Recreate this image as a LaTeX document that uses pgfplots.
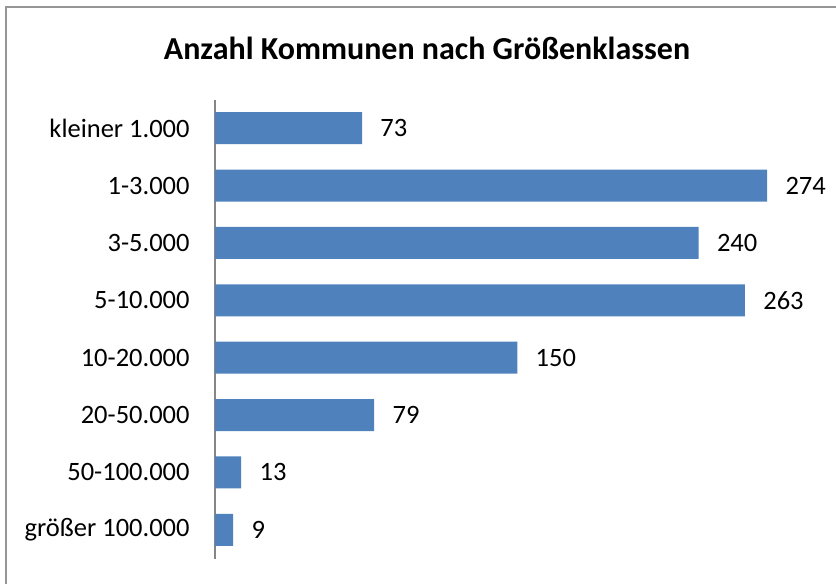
\documentclass[border=0pt]{standalone}
\usepackage{pgfplots}
\pgfplotsset{compat=1.18}
\usepackage{fontspec}
\setmainfont{Carlito}
\definecolor{barblue}{HTML}{4F81BD}
\definecolor{axisgray}{HTML}{868686}
\definecolor{framegray}{HTML}{969696}
\begin{document}
\begin{tikzpicture}
\useasboundingbox (0,0) rectangle (418pt,292pt);
\clip (0,0) rectangle (418pt,292pt);
\draw[framegray, line width=0.8pt] (3pt,-10pt) -- (3pt,288.5pt) -- (440pt,288.5pt);
\node[font=\fontsize{16}{19}\selectfont\bfseries] at (213.5pt,268pt) {Anzahl Kommunen nach Größenklassen};
\begin{axis}[
  at={(107.5pt,12.75pt)}, anchor=south west,
  scale only axis, width=302.25pt, height=229.5pt,
  xbar, xmin=0, xmax=300,
  ymin=-0.5, ymax=7.5, y dir=reverse,
  axis x line=none, axis y line=left,
  y axis line style={-, draw=axisgray, line width=0.75pt},
  ytick={0,...,7},
  yticklabels={kleiner 1.000,1-3.000,3-5.000,5-10.000,10-20.000,20-50.000,50-100.000,größer 100.000},
  major tick length=0pt,
  yticklabel style={font=\fontsize{13.25}{15}\selectfont, inner sep=0pt, xshift=-12.5pt},
  bar width=16pt,
  nodes near coords,
  /pgf/number format/assume math mode=true,
  nodes near coords style={font=\fontsize{13.25}{15}\selectfont, anchor=west, inner sep=0pt, xshift=9pt},
  clip=false,
]
\addplot[fill=barblue, draw=none] coordinates {(73,0) (274,1) (240,2) (263,3) (150,4) (79,5) (13,6) (9,7)};
\end{axis}
\end{tikzpicture}
\end{document}
